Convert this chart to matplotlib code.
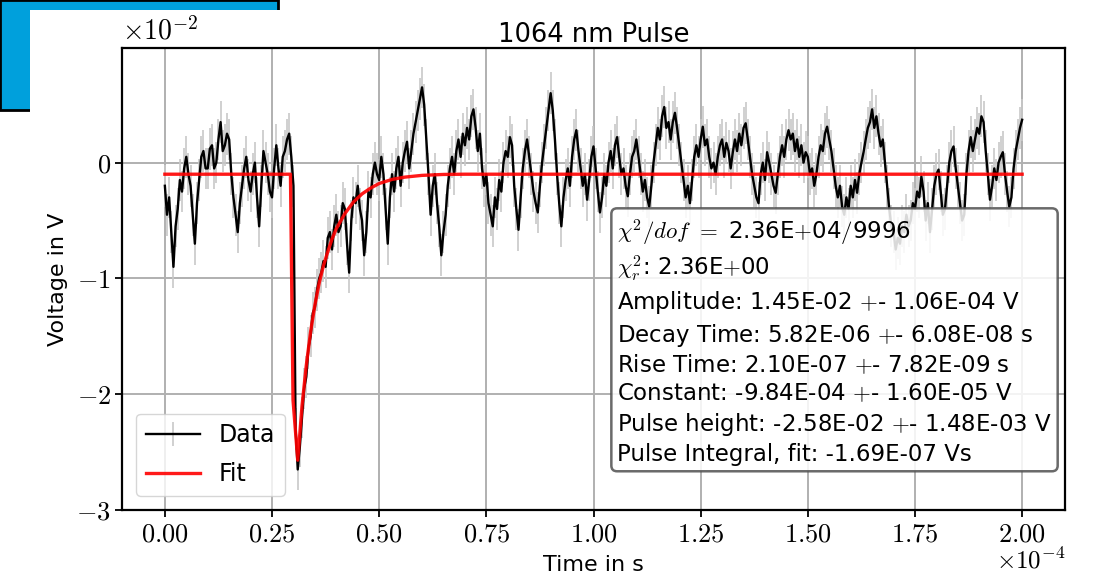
import matplotlib
matplotlib.use("Agg")
import matplotlib.pyplot as plt
from matplotlib.patches import Rectangle
from matplotlib.ticker import FuncFormatter, MultipleLocator
import numpy as np

plt.rcParams["mathtext.fontset"] = "cm"
plt.rcParams["font.family"] = "DejaVu Sans"

# measured trace, in units of 1e-2 V, one value every 0.5 us from 0 to 200 us
data_v = [
    -0.20, -0.45, -0.30, -0.60, -0.90, -0.55, -0.40, -0.15, -0.25, -0.05,
    0.05, -0.10, -0.20, -0.45, -0.70, -0.35, -0.15, 0.05, 0.10, -0.05,
    -0.05, 0.12, 0.15, -0.05, 0.00, 0.20, 0.35, 0.10, 0.15, 0.25,
    0.20, -0.10, -0.30, -0.45, -0.60, -0.35, -0.20, -0.05, 0.05, -0.15,
    -0.25, -0.10, 0.00, -0.30, -0.55, -0.20, 0.10, 0.00, -0.10, -0.25,
    -0.30, -0.05, 0.15, -0.05, -0.20, 0.05, 0.10, 0.20, 0.25, 0.05,
    -0.20, -2.30, -2.65, -2.45, -2.20, -1.95, -1.85, -1.60, -1.50, -1.30,
    -1.25, -1.10, -1.00, -0.95, -0.85, -0.90, -0.65, -0.60, -0.75, -0.55,
    -0.45, -0.60, -0.55, -0.35, -0.40, -0.70, -0.95, -0.50, -0.30, -0.35,
    -0.20, -0.40, -0.50, -0.80, -0.60, -0.25, -0.30, -0.10, 0.00, -0.10,
    -0.15, 0.05, -0.10, -0.40, -0.70, -0.30, -0.10, -0.25, -0.05, 0.05,
    -0.20, 0.00, 0.10, 0.18, -0.05, 0.10, 0.25, 0.35, 0.45, 0.55,
    0.65, 0.50, 0.20, -0.10, -0.45, -0.20, -0.10, -0.35, -0.55, -0.80,
    -0.60, -0.45, -0.20, -0.05, 0.05, -0.10, 0.10, 0.20, 0.05, 0.25,
    0.15, 0.30, 0.20, 0.40, 0.46, 0.30, 0.10, 0.25, -0.05, -0.20,
    -0.10, -0.35, -0.45, -0.55, -0.30, -0.40, -0.15, -0.25, 0.00, 0.10,
    0.05, 0.22, 0.15, -0.20, -0.40, -0.58, -0.30, -0.05, 0.10, 0.20,
    0.05, -0.10, -0.25, -0.35, -0.43, -0.20, 0.00, 0.15, 0.30, 0.45,
    0.60, 0.45, 0.20, -0.10, -0.35, -0.55, -0.30, -0.15, -0.05, -0.20,
    0.05, 0.20, 0.28, 0.10, -0.05, -0.20, -0.10, -0.32, -0.15, 0.05,
    0.14, -0.05, -0.25, -0.43, -0.30, -0.10, -0.20, 0.00, 0.10, -0.05,
    0.15, 0.22, 0.05, -0.10, -0.05, -0.20, -0.29, -0.10, 0.05, 0.10,
    0.20, 0.05, -0.10, -0.25, -0.15, -0.30, -0.38, -0.20, 0.00, 0.15,
    0.30, 0.20, 0.40, 0.48, 0.30, 0.35, 0.20, 0.35, 0.43, 0.30,
    0.15, 0.00, -0.15, -0.30, -0.20, -0.35, -0.15, 0.05, 0.15, 0.05,
    0.20, 0.31, 0.15, 0.20, 0.05, -0.05, 0.00, -0.10, 0.05, 0.15,
    0.20, 0.05, 0.17, 0.10, -0.05, 0.09, 0.20, 0.10, 0.25, 0.15,
    0.30, 0.34, 0.20, 0.05, -0.10, -0.20, -0.30, -0.35, -0.10, 0.00,
    -0.15, 0.09, 0.00, -0.10, -0.20, -0.26, -0.10, 0.05, 0.15, 0.05,
    0.20, 0.28, 0.20, 0.25, 0.10, 0.20, 0.05, 0.15, 0.00, 0.09,
    0.05, -0.10, -0.05, -0.20, -0.10, 0.05, 0.15, 0.10, 0.25, 0.31,
    0.20, 0.10, -0.05, -0.20, -0.30, -0.20, -0.38, -0.45, -0.30, -0.40,
    -0.20, -0.30, -0.15, -0.26, -0.10, 0.00, 0.09, 0.20, 0.30, 0.35,
    0.46, 0.30, 0.40, 0.25, 0.14, 0.20, 0.00, -0.20, -0.40, -0.55,
    -0.60, -0.75, -0.65, -0.70, -0.55, -0.60, -0.45, -0.55, -0.50, -0.35,
    -0.40, -0.25, -0.30, -0.12, -0.25, -0.50, -0.35, -0.60, -0.40, -0.20,
    -0.10, -0.06, -0.25, -0.45, -0.40, -0.20, 0.00, 0.10, 0.14, -0.05,
    -0.20, -0.35, -0.50, -0.45, -0.10, 0.10, 0.22, 0.10, 0.20, 0.30,
    0.25, 0.40, 0.35, 0.10, -0.10, -0.32, -0.20, -0.05, -0.15, 0.00,
    0.05, 0.09, -0.10, -0.25, -0.38, -0.30, -0.05, 0.10, 0.20, 0.30,
    0.37,
]
data_err = 0.18  # 1e-2 V
time_us = np.arange(len(data_v)) * 0.5

# fit curve (us, 1e-2 V)
fit_t = [0.0, 29.3, 29.9, 31.0, 32.0, 33.0, 34.0, 35.0, 36.0, 37.0, 38.0,
         39.0, 40.0, 42.0, 44.0, 46.0, 48.0, 50.0, 53.0, 56.0, 60.0, 65.0,
         70.0, 200.0]
fit_v = [-0.10, -0.10, -2.05, -2.57, -2.10, -1.75, -1.46, -1.23, -1.04,
         -0.89, -0.77, -0.66, -0.57, -0.44, -0.34, -0.27, -0.22, -0.18,
         -0.145, -0.125, -0.11, -0.102, -0.10, -0.10]

fit_text = "\n".join([
    r"$\chi^2/dof$ $=$ 2.36E$+$04$/$9996",
    r"$\chi_r^2$: 2.36E$+$00",
    r"Amplitude: 1.45E-02 $+$- 1.06E-04 V",
    r"Decay Time: 5.82E-06 $+$- 6.08E-08 s",
    r"Rise Time: 2.10E-07 $+$- 7.82E-09 s",
    r"Constant: -9.84E-04 $+$- 1.60E-05 V",
    r"Pulse height: -2.58E-02 $+$- 1.48E-03 V",
    r"Pulse Integral, fit: -1.69E-07 Vs",
])

W, H = 1108, 577
fig = plt.figure(figsize=(W / 100, H / 100), dpi=100)

# blue frame peeking out behind the figure
fig.patches.append(Rectangle((0, 1 - 110 / H), 278 / W, 110 / H,
                             transform=fig.transFigure, facecolor="#00a0dc",
                             edgecolor="black", linewidth=2, zorder=-3))
fig.patches.append(Rectangle((30 / W, 0), 1, 1 - 10 / H,
                             transform=fig.transFigure, facecolor="white",
                             edgecolor="none", zorder=-2))

ax = fig.add_axes([122 / W, 1 - 510 / H, (1065 - 122) / W, (510 - 48) / H])
ax.patch.set_facecolor("white")

t = np.array(time_us) * 1e-6
v = np.array(data_v) * 1e-2
h_data = ax.errorbar(t, v, yerr=data_err * 1e-2, fmt="-", color="black",
                     lw=1.7, ecolor="#c8c8c8", elinewidth=1.2, label="Data",
                     zorder=2)
h_fit, = ax.plot(np.array(fit_t) * 1e-6, np.array(fit_v) * 1e-2, color="red",
                 lw=2.4, alpha=0.9, label="Fit", zorder=3)

ax.set_xlim(-1e-5, 2.1e-4)
ax.set_ylim(-0.030, 0.0099)
ax.xaxis.set_major_locator(MultipleLocator(0.25e-4))
ax.yaxis.set_major_locator(MultipleLocator(1e-2))
ax.xaxis.set_major_formatter(FuncFormatter(lambda x, p: "$%.2f$" % (x * 1e4)))
ax.yaxis.set_major_formatter(FuncFormatter(lambda y, p: "$%d$" % round(y * 1e2)))
ax.tick_params(labelsize=19, width=1.3, length=5, pad=3)
ax.grid(True, color="#b0b0b0", lw=1.4)
ax.set_axisbelow(True)
for s in ax.spines.values():
    s.set_linewidth(1.6)

ax.text(0.0, 1.005, r"$\times10^{-2}$", transform=ax.transAxes, fontsize=20,
        ha="left", va="bottom")
ax.text(1.0, -0.082, r"$\times10^{-4}$", transform=ax.transAxes, fontsize=18,
        ha="right", va="top")

ax.set_title("1064 nm Pulse", fontsize=18.5, pad=4)
ax.set_xlabel("Time in s", fontsize=16, labelpad=6)
ax.set_ylabel("Voltage in V", fontsize=16, labelpad=6)

ax.legend([h_data, h_fit], ["Data", "Fit"], loc="lower left", fontsize=17,
          framealpha=0.8, handlelength=2.3, labelspacing=0.65,
          borderaxespad=0.6)

ax.text(0.525, 0.633, fit_text, transform=ax.transAxes, fontsize=16.5,
        va="top", ha="left", linespacing=1.27,
        bbox=dict(boxstyle="round,pad=0.25", facecolor="white",
                  edgecolor="#505050", linewidth=1.8, alpha=0.85))

fig.savefig("out.png", dpi=100)
